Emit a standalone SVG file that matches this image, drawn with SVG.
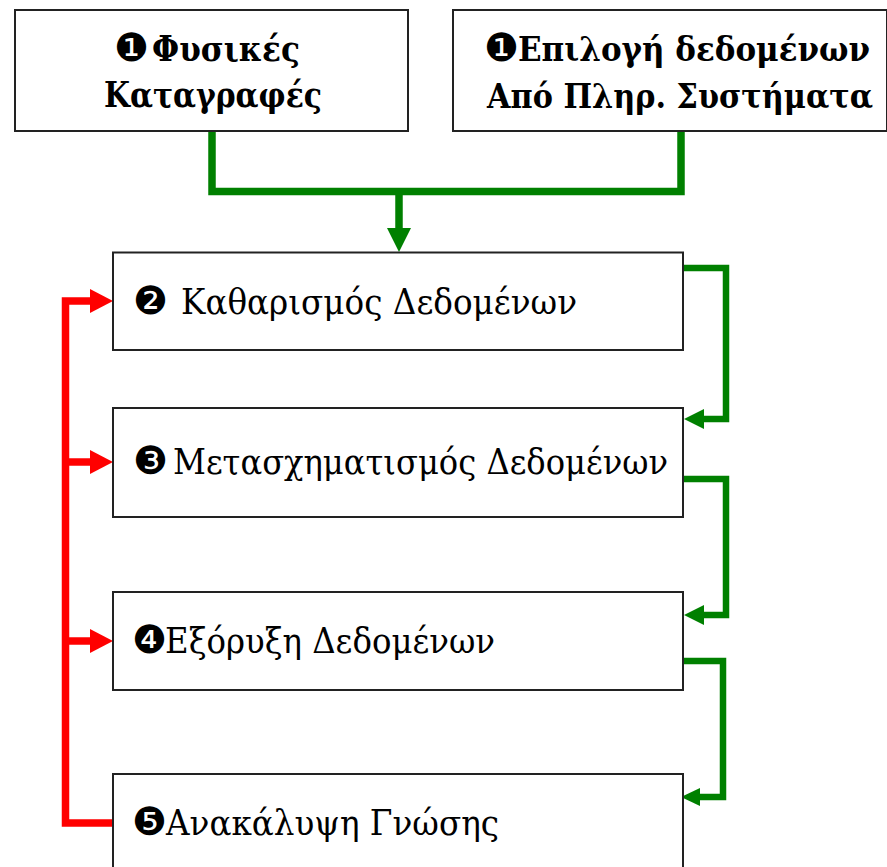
<svg xmlns="http://www.w3.org/2000/svg" width="887" height="867" viewBox="0 0 887 867">
<style>
.box{fill:#fff;stroke:#222;stroke-width:2}
.lbl{font-family:"DejaVu Serif","Liberation Serif",serif;font-size:36px;fill:#000}
.bold{font-weight:bold}
.n2t{font-size:33px}
.num{font-family:"DejaVu Sans",sans-serif;font-size:39px;font-weight:normal}
.g{fill:none;stroke:#008000;stroke-linejoin:miter;stroke-linecap:butt}
.gh{fill:#008000}
.r{fill:none;stroke:#ff0000;stroke-width:7.5;stroke-linejoin:miter}
.rh{fill:#ff0000}
</style>
<rect width="887" height="867" fill="#fff"/>
<g id="connectors">
<polyline class="g" stroke-width="7.5" points="212,131 212,191.5 681,191.5 681,131"/>
<line class="g" stroke-width="7.5" x1="399" y1="191" x2="399" y2="229"/>
<polygon class="gh" points="387,228 411,228 399,252"/>
<polyline class="g" stroke-width="6.5" points="683,268 726,268 726,419 703,419"/>
<polygon class="gh" points="704,409 704,429 684,419"/>
<polyline class="g" stroke-width="6.5" points="683,479 726,479 726,615 703,615"/>
<polygon class="gh" points="704,605 704,625 684,615"/>
<polyline class="g" stroke-width="6.5" points="680,661 723,661 723,797 699,797"/>
<polygon class="gh" points="700,788 700,806 681,797"/>
<polyline class="r" points="91,301 65.5,301 65.5,823 113,823"/>
<line class="r" x1="65" y1="462" x2="91" y2="462"/>
<line class="r" x1="65" y1="641" x2="91" y2="641"/>
<polygon class="rh" points="90,289 90,313 113,301"/>
<polygon class="rh" points="90,450 90,474 113,462"/>
<polygon class="rh" points="90,629 90,653 113,641"/>
</g>
<g id="n1">
<rect class="box" x="15" y="10" width="393" height="121"/>
<text class="lbl bold" y="61"><tspan class="num" font-size="37" x="114">❶</tspan><tspan x="152" textLength="148" lengthAdjust="spacingAndGlyphs">Φυσικές</tspan></text>
<text class="lbl bold" x="104" y="107" textLength="218" lengthAdjust="spacingAndGlyphs">Καταγραφές</text>
</g>
<g id="n2">
<rect class="box" x="453" y="10" width="434" height="121"/>
<text class="lbl bold n2t" y="61"><tspan class="num" font-size="32" x="484">❶</tspan><tspan x="518" textLength="352" lengthAdjust="spacingAndGlyphs">Επιλογή δεδομένων</tspan></text>
<text class="lbl bold n2t" x="487" y="108" textLength="386" lengthAdjust="spacingAndGlyphs">Από Πληρ. Συστήματα</text>
</g>
<g id="n3">
<rect class="box" x="113" y="252.5" width="570" height="97.5"/>
<text class="lbl" y="314"><tspan class="num" x="133">❷</tspan><tspan x="181" textLength="396" lengthAdjust="spacingAndGlyphs">Καθαρισμός Δεδομένων</tspan></text>
</g>
<g id="n4">
<rect class="box" x="113" y="408" width="570" height="109"/>
<text class="lbl" y="474"><tspan class="num" x="133">❸</tspan><tspan x="173" textLength="495" lengthAdjust="spacingAndGlyphs">Μετασχηματισμός Δεδομένων</tspan></text>
</g>
<g id="n5">
<rect class="box" x="113" y="592" width="570" height="98"/>
<text class="lbl" y="653"><tspan class="num" x="132">❹</tspan><tspan x="165" textLength="330" lengthAdjust="spacingAndGlyphs">Εξόρυξη Δεδομένων</tspan></text>
</g>
<g id="n6">
<rect class="box" x="113" y="774" width="570" height="94"/>
<text class="lbl" y="835"><tspan class="num" x="132">❺</tspan><tspan x="166" textLength="333" lengthAdjust="spacingAndGlyphs">Ανακάλυψη Γνώσης</tspan></text>
</g>
</svg>
